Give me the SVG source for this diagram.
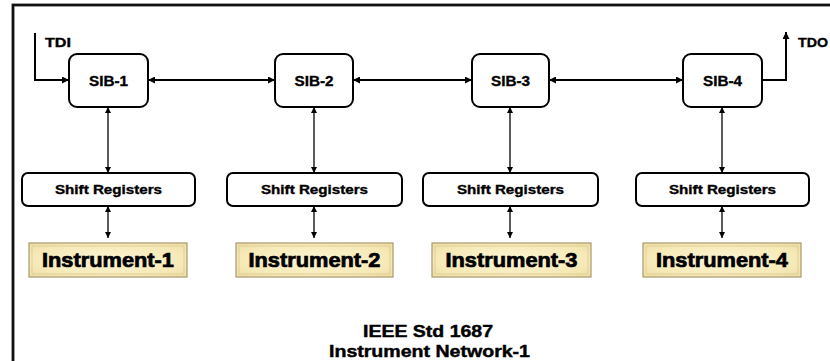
<svg xmlns="http://www.w3.org/2000/svg" width="830" height="361" viewBox="0 0 830 361">
  <style>
    .frame { fill: none; stroke: #111; stroke-width: 2.8; }
    .sib { fill: #fff; stroke: #000; stroke-width: 2; }
    .sr { fill: #fff; stroke: #000; stroke-width: 2; }
    .inst-outer { fill: url(#parchment); stroke: #a8996c; stroke-width: 1.2; }
    .inst-inner { fill: none; stroke: #d9c995; stroke-width: 0.8; }
    .lbl { font-family: "Liberation Sans", Arial, sans-serif; font-weight: bold; fill: #000; stroke: #000; stroke-width: 0.35; text-anchor: middle; }
    .sibt { font-size: 14.5px; }
    .srt { font-size: 12.5px; }
    .instt { font-size: 19.5px; stroke-width: 0.7; }
    .pin { font-size: 13px; text-anchor: start; }
    .title { font-size: 17px; stroke-width: 0.45; }
    .bus { fill: none; stroke: #000; stroke-width: 2; }
    .link { fill: none; stroke: #000; stroke-width: 1.3; }
  </style>
  <defs>
    <radialGradient id="parchment" cx="50%" cy="50%" r="70%">
      <stop offset="0" stop-color="#fcf5d6"/>
      <stop offset="0.7" stop-color="#f6e9b6"/>
      <stop offset="1" stop-color="#efdda3"/>
    </radialGradient>
    <marker id="ah" viewBox="0 0 8 8" refX="8" refY="4" markerWidth="7" markerHeight="7" markerUnits="userSpaceOnUse" orient="auto-start-reverse">
      <path d="M0,0 L8,4 L0,8 z" fill="#000"/>
    </marker>
    <marker id="as" viewBox="0 0 8 8" refX="8" refY="4" markerWidth="6" markerHeight="6" markerUnits="userSpaceOnUse" orient="auto-start-reverse">
      <path d="M0,0 L8,4 L0,8 z" fill="#000"/>
    </marker>
  </defs>

  <!-- outer frame, running off the right and bottom edges -->
  <rect class="frame" x="13" y="5" width="840" height="380"/>

  <g id="connectors">
    <!-- scan path -->
    <polyline class="bus" points="35,33 35,80 69,80" marker-end="url(#ah)"/>
    <line class="bus" x1="148" y1="80" x2="275" y2="80" marker-start="url(#ah)" marker-end="url(#ah)"/>
    <line class="bus" x1="353" y1="80" x2="472" y2="80" marker-start="url(#ah)" marker-end="url(#ah)"/>
    <line class="bus" x1="549" y1="80" x2="683" y2="80" marker-start="url(#ah)" marker-end="url(#ah)"/>
    <polyline class="bus" points="762,80 786,80 786,32" marker-end="url(#ah)"/>
    <!-- SIB to shift registers -->
    <line class="link" x1="108" y1="107" x2="108" y2="173" marker-start="url(#as)" marker-end="url(#as)"/>
    <line class="link" x1="314" y1="107" x2="314" y2="173" marker-start="url(#as)" marker-end="url(#as)"/>
    <line class="link" x1="510" y1="107" x2="510" y2="173" marker-start="url(#as)" marker-end="url(#as)"/>
    <line class="link" x1="722" y1="107" x2="722" y2="173" marker-start="url(#as)" marker-end="url(#as)"/>
    <!-- shift registers to instruments -->
    <line class="link" x1="108" y1="206" x2="108" y2="238" marker-start="url(#as)" marker-end="url(#as)"/>
    <line class="link" x1="314" y1="206" x2="314" y2="238" marker-start="url(#as)" marker-end="url(#as)"/>
    <line class="link" x1="510" y1="206" x2="510" y2="238" marker-start="url(#as)" marker-end="url(#as)"/>
    <line class="link" x1="722" y1="206" x2="722" y2="238" marker-start="url(#as)" marker-end="url(#as)"/>
  </g>

  <text class="lbl pin" x="45" y="47" textLength="26" lengthAdjust="spacingAndGlyphs">TDI</text>
  <text class="lbl pin" x="798" y="47" textLength="30" lengthAdjust="spacingAndGlyphs">TDO</text>

  <!-- segment insertion bits -->
  <g id="sib1"><rect class="sib" x="69" y="54" width="79" height="53" rx="8"/><text class="lbl sibt" x="108.5" y="86" textLength="39" lengthAdjust="spacingAndGlyphs">SIB-1</text></g>
  <g id="sib2"><rect class="sib" x="275" y="54" width="78" height="53" rx="8"/><text class="lbl sibt" x="314" y="86" textLength="39" lengthAdjust="spacingAndGlyphs">SIB-2</text></g>
  <g id="sib3"><rect class="sib" x="472" y="54" width="77" height="53" rx="8"/><text class="lbl sibt" x="510.5" y="86" textLength="39" lengthAdjust="spacingAndGlyphs">SIB-3</text></g>
  <g id="sib4"><rect class="sib" x="683" y="54" width="79" height="53" rx="8"/><text class="lbl sibt" x="722.5" y="86" textLength="39" lengthAdjust="spacingAndGlyphs">SIB-4</text></g>

  <!-- shift registers -->
  <g id="sr1"><rect class="sr" x="22" y="173" width="173" height="33" rx="6"/><text class="lbl srt" x="108.5" y="194" textLength="107" lengthAdjust="spacingAndGlyphs">Shift Registers</text></g>
  <g id="sr2"><rect class="sr" x="227" y="173" width="175" height="33" rx="6"/><text class="lbl srt" x="314.5" y="194" textLength="107" lengthAdjust="spacingAndGlyphs">Shift Registers</text></g>
  <g id="sr3"><rect class="sr" x="423" y="173" width="175" height="33" rx="6"/><text class="lbl srt" x="510.5" y="194" textLength="107" lengthAdjust="spacingAndGlyphs">Shift Registers</text></g>
  <g id="sr4"><rect class="sr" x="636" y="173" width="173" height="33" rx="6"/><text class="lbl srt" x="722.5" y="194" textLength="107" lengthAdjust="spacingAndGlyphs">Shift Registers</text></g>

  <!-- instruments -->
  <g id="inst1"><rect class="inst-outer" x="29" y="243" width="158" height="34"/><rect class="inst-inner" x="32" y="246" width="152" height="28"/><text class="lbl instt" x="108" y="267" textLength="132" lengthAdjust="spacingAndGlyphs">Instrument-1</text></g>
  <g id="inst2"><rect class="inst-outer" x="236" y="243" width="157" height="34"/><rect class="inst-inner" x="239" y="246" width="151" height="28"/><text class="lbl instt" x="314.5" y="267" textLength="132" lengthAdjust="spacingAndGlyphs">Instrument-2</text></g>
  <g id="inst3"><rect class="inst-outer" x="432" y="243" width="159" height="34"/><rect class="inst-inner" x="435" y="246" width="153" height="28"/><text class="lbl instt" x="511.5" y="267" textLength="132" lengthAdjust="spacingAndGlyphs">Instrument-3</text></g>
  <g id="inst4"><rect class="inst-outer" x="643" y="243" width="158" height="34"/><rect class="inst-inner" x="646" y="246" width="152" height="28"/><text class="lbl instt" x="722" y="267" textLength="132" lengthAdjust="spacingAndGlyphs">Instrument-4</text></g>

  <!-- caption -->
  <text class="lbl title" x="428" y="337" textLength="130" lengthAdjust="spacingAndGlyphs">IEEE Std 1687</text>
  <text class="lbl title" x="429.5" y="357" textLength="201" lengthAdjust="spacingAndGlyphs">Instrument Network-1</text>
</svg>
